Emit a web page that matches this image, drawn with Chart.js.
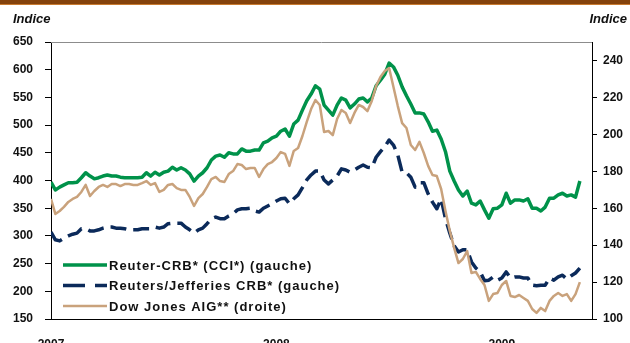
<!DOCTYPE html>
<html>
<head>
<meta charset="utf-8">
<script src="https://cdn.jsdelivr.net/npm/chart.js@4.4.1/dist/chart.umd.min.js"></script>
<style>
  html, body { margin: 0; padding: 0; background: #fff; }
  #wrap { position: relative; width: 630px; height: 343px; overflow: hidden; }
  #bar { position: absolute; left: 0; top: 0; width: 630px; height: 4px; background: #84420c; border-bottom: 1px solid #c87a30; }
  .unit { position: absolute; top: 11px; font: italic bold 13px "Liberation Sans", Arial, sans-serif; color: #111; }
  #chart { position: absolute; left: 0; top: 0; }
</style>
</head>
<body>
<div id="wrap">
  <canvas id="chart" width="630" height="343"></canvas>
  <div id="bar"></div>
  <div class="unit" style="left:13px">Indice</div>
  <div class="unit" style="right:3px">Indice</div>
</div>
<script>
// Semaines depuis janvier 2007 (une valeur par semaine)
const startYear = 2007;
const yearTicks = [2007, 2008, 2009];

// Reuter-CRB (CCI) - axe gauche
const reuterCRB = [
  397, 383, 388, 392, 396, 396, 397, 405, 414, 408,
  403, 405, 408, 410, 408, 408, 406, 405, 405, 405,
  405, 406, 414, 408, 415, 410, 415, 417, 424, 419,
  423, 419, 412, 399, 408, 414, 423, 437, 444, 446,
  442, 450, 448, 448, 457, 453, 453, 455, 455, 468,
  471, 477, 480, 489, 493, 480, 502, 509, 527, 544,
  556, 571, 565, 536, 527, 518, 536, 549, 545, 531,
  538, 547, 549, 542, 549, 571, 581, 592, 612, 605,
  590, 569, 553, 538, 522, 522, 520, 506, 489, 491,
  475, 452, 417, 399, 383, 372, 381, 359, 356, 363,
  347, 332, 349, 350, 356, 377, 359, 365, 365, 363,
  367, 350, 350, 345, 352, 368, 368, 374, 377, 372,
  374, 370, 399
];

// Reuters/Jefferies CRB - axe gauche
const jefferiesCRB = [
  307, 293, 291, 296, 300, 303, 305, 313, 313, 309,
  309, 311, 314, 316, 316, 314, 314, 313, 311, 311,
  311, 313, 313, 313, 316, 314, 316, 322, 323, 323,
  323, 316, 311, 305, 311, 314, 322, 331, 334, 331,
  331, 336, 340, 347, 349, 349, 350, 345, 343, 350,
  354, 358, 363, 367, 368, 358, 367, 374, 387, 401,
  410, 417, 417, 401, 394, 401, 408, 421, 419, 415,
  419, 424, 428, 424, 423, 442, 452, 461, 473, 464,
  446, 415, 414, 406, 388, 396, 396, 376, 361, 349,
  367, 331, 305, 282, 271, 275, 275, 253, 242, 235,
  219, 220, 226, 220, 224, 235, 224, 226, 226, 224,
  224, 211, 210, 211, 211, 224, 220, 226, 229, 222,
  228, 233, 242
];

// Dow Jones AIG - axe droit
const dowJonesAIG = [
  165.0, 156.9, 158.5, 160.7, 163.4, 165.0, 166.1, 168.8, 172.6, 166.6,
  169.3, 171.5, 172.6, 171.5, 173.1, 173.1, 172.0, 173.1, 173.1, 172.6,
  172.6, 173.6, 174.7, 172.6, 173.6, 168.8, 169.9, 172.6, 173.1, 170.9,
  169.9, 169.9, 166.1, 161.2, 165.5, 167.7, 171.5, 175.8, 176.9, 174.7,
  174.2, 178.5, 180.1, 183.9, 183.4, 181.2, 181.8, 181.8, 176.9, 181.2,
  183.9, 185.0, 187.2, 190.4, 189.4, 182.9, 191.0, 192.6, 199.1, 206.7,
  213.7, 218.6, 215.9, 201.3, 201.8, 199.6, 208.3, 213.2, 211.6, 206.1,
  211.6, 215.9, 214.8, 212.6, 218.1, 226.2, 231.0, 234.3, 235.9, 225.6,
  215.3, 206.1, 203.4, 194.2, 191.5, 195.9, 189.9, 182.9, 178.0, 177.4,
  170.4, 158.5, 147.7, 138.5, 130.3, 132.5, 136.8, 124.9, 125.5, 121.7,
  118.4, 109.8, 113.5, 114.1, 118.4, 120.6, 112.5, 111.9, 113.0, 111.4,
  109.8, 105.4, 103.3, 106.0, 104.3, 109.8, 112.5, 114.1, 112.5, 113.5,
  109.8, 113.5, 120.0
];

const labelFont = { family: '"Liberation Sans", Arial, sans-serif', size: 12, weight: 'bold' };

function toPoints(values) {
  return values.map((v, i) => ({ x: startYear + i / 52, y: v }));
}

// Légende dessinée dans la zone du graphique (en bas à gauche)
const insideLegend = {
  id: 'insideLegend',
  beforeDatasetsDraw(chart) {
    const { ctx, chartArea } = chart;
    ctx.save();
    ctx.strokeStyle = '#8c8c8c';
    ctx.lineWidth = 1;
    ctx.beginPath();
    ctx.moveTo(chartArea.left, chartArea.top + 0.5);
    ctx.lineTo(chartArea.right, chartArea.top + 0.5);
    ctx.stroke();
    ctx.restore();
  },
  afterDraw(chart) {
    const ctx = chart.ctx;
    ctx.save();
    ctx.font = 'bold 13px "Liberation Sans", Arial, sans-serif';
    ctx.letterSpacing = '1px';
    ctx.textBaseline = 'middle';
    chart.data.datasets.forEach((ds, k) => {
      const y = 265 + k * 20.5;
      ctx.strokeStyle = ds.borderColor;
      ctx.lineWidth = ds.borderWidth;
      ctx.setLineDash(ds.borderDash && ds.borderDash.length ? [22, 10] : []);
      ctx.beginPath();
      ctx.moveTo(63, y);
      ctx.lineTo(107, y);
      ctx.stroke();
      ctx.setLineDash([]);
      ctx.fillStyle = '#111';
      ctx.fillText(ds.label, 109, y + 1);
    });
    ctx.restore();
  }
};

new Chart(document.getElementById('chart'), {
  type: 'line',
  data: {
    datasets: [
      {
        label: 'Reuter-CRB* (CCI*) (gauche)',
        data: toPoints(reuterCRB),
        yAxisID: 'y',
        borderColor: '#00924a',
        borderWidth: 3.5,
        order: 1
      },
      {
        label: 'Reuters/Jefferies CRB* (gauche)',
        data: toPoints(jefferiesCRB),
        yAxisID: 'y',
        borderColor: '#0b2a5a',
        borderWidth: 3.5,
        borderDash: [16, 7],
        order: 2
      },
      {
        label: 'Dow Jones AIG** (droite)',
        data: toPoints(dowJonesAIG),
        yAxisID: 'y2',
        borderColor: '#c9a27c',
        borderWidth: 2.5,
        order: 0
      }
    ]
  },
  options: {
    responsive: false,
    animation: false,
    layout: { padding: { top: 42, left: 0, right: 0, bottom: 0 } },
    elements: {
      point: { radius: 0 },
      line: { tension: 0, fill: false, borderJoinStyle: 'round' }
    },
    plugins: {
      legend: { display: false },
      tooltip: { enabled: false }
    },
    scales: {
      x: {
        type: 'linear',
        min: 2007,
        max: 2009.4,
        afterBuildTicks: (s) => { s.ticks = yearTicks.map(v => ({ value: v })); },
        afterFit: (s) => { s.height = 24; },
        grid: { drawOnChartArea: false, drawTicks: false },
        border: { color: '#000', width: 1 },
        ticks: {
          padding: 18,
          color: '#111',
          font: labelFont,
          autoSkip: false,
          maxRotation: 0,
          callback: (v) => String(v)
        }
      },
      y: {
        position: 'left',
        min: 150,
        max: 650,
        afterFit: (s) => { s.width = 51; },
        grid: { drawOnChartArea: false, tickLength: 6, color: '#000' },
        border: { color: '#000', width: 1 },
        ticks: { stepSize: 50, padding: 12, color: '#111', font: labelFont }
      },
      y2: {
        position: 'right',
        min: 100,
        max: 250,
        afterBuildTicks: (s) => { s.ticks = s.ticks.filter(t => t.value <= 240); },
        afterFit: (s) => { s.width = 38; },
        grid: { drawOnChartArea: false, tickLength: 5, color: '#000' },
        border: { color: '#000', width: 1 },
        ticks: { stepSize: 20, padding: 6, color: '#111', font: labelFont }
      }
    }
  },
  plugins: [insideLegend]
});
</script>
</body>
</html>
